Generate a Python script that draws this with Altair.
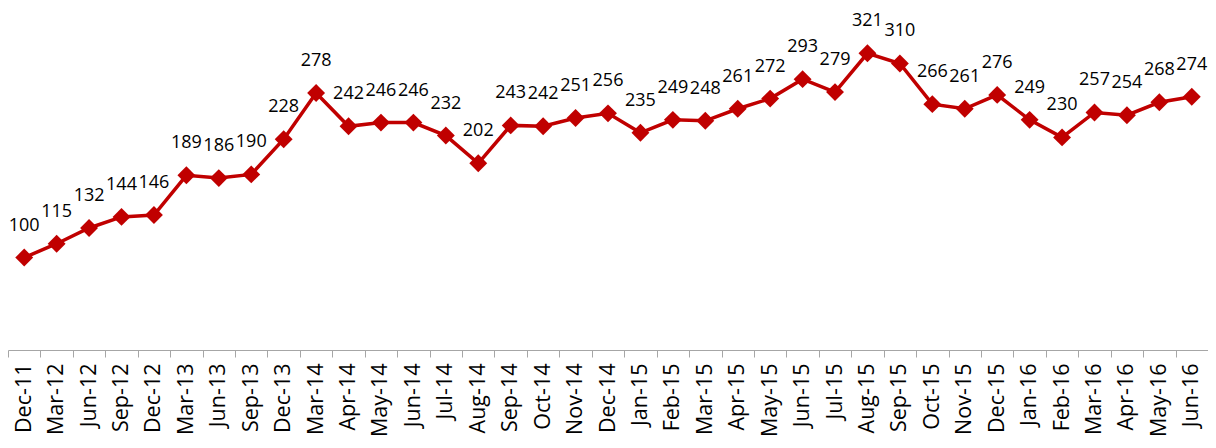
import altair as alt
import pandas as pd

categories = ["Dec-11", "Mar-12", "Jun-12", "Sep-12", "Dec-12", "Mar-13", "Jun-13", "Sep-13",
              "Dec-13", "Mar-14", "Apr-14", "May-14", "Jun-14", "Jul-14", "Aug-14", "Sep-14",
              "Oct-14", "Nov-14", "Dec-14", "Jan-15", "Feb-15", "Mar-15", "Apr-15", "May-15",
              "Jun-15", "Jul-15", "Aug-15", "Sep-15", "Oct-15", "Nov-15", "Dec-15", "Jan-16",
              "Feb-16", "Mar-16", "Apr-16", "May-16", "Jun-16"]
values = [100, 115, 132, 144, 146, 189, 186, 190, 228, 278, 242, 246, 246, 232, 202, 243,
          242, 251, 256, 235, 249, 248, 261, 272, 293, 279, 321, 310, 266, 261, 276, 249,
          230, 257, 254, 268, 274]

df = pd.DataFrame({"period": categories, "value": values})

RED = "#C00000"
FONT = "Open Sans"

x = alt.X("period:N", sort=categories, bandPosition=0.5,
          scale=alt.Scale(type="band", paddingInner=0, paddingOuter=0),
          axis=alt.Axis(title=None, labelAngle=270, tickBand="extent", tickSize=7,
                        labelPadding=6, labelFont=FONT, labelFontSize=21.5,
                        labelColor="#000000", domainColor="#a6a6a6", tickColor="#a6a6a6",
                        domainWidth=1, tickWidth=1, grid=False))
y = alt.Y("value:Q", scale=alt.Scale(domain=[0, 370], nice=False, zero=True), axis=None)

base = alt.Chart(df).encode(x=x, y=y)

line = base.mark_line(color=RED, strokeWidth=3.5)
pts = base.mark_point(shape="diamond", filled=True, size=320, color=RED, opacity=1)
labels = base.mark_text(font=FONT, fontSize=18, color="#000000", dy=-32,
                        baseline="middle", align="center").encode(text="value:Q")

chart = (line + pts + labels).properties(
    width=1200, height=342,
    padding={"left": 0, "top": 0, "right": 0, "bottom": 90},
    autosize=alt.AutoSizeParams(type="none")
).configure_view(stroke=None)

chart.save("out.html", embed_options={"renderer": "svg", "actions": False})
